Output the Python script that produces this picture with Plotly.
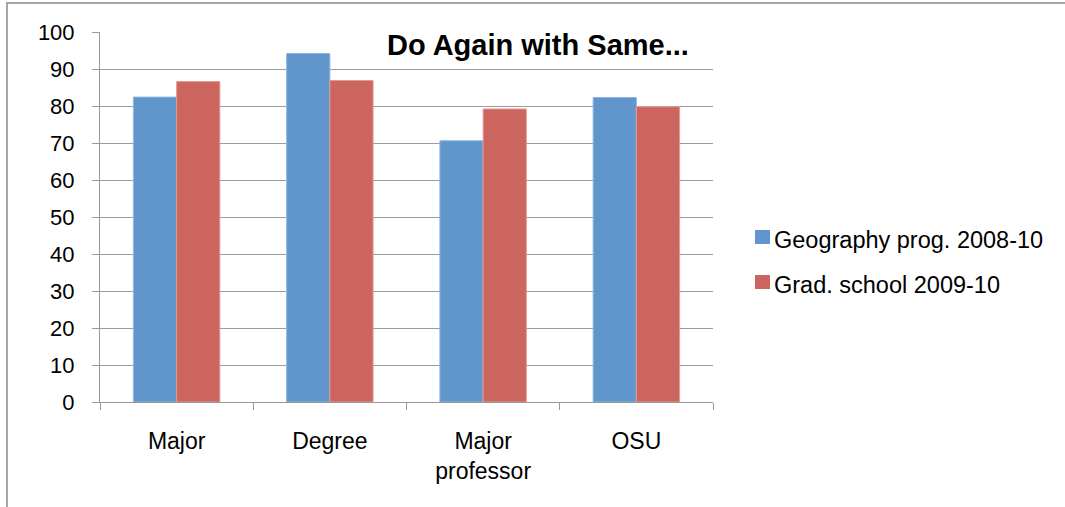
import plotly.graph_objects as go

# Survey responses: percentage who would choose the same again
categories = ["Major", "Degree", "Major<br>professor", "OSU"]
series_names = ["Geography prog. 2008-10", "Grad. school 2009-10"]
geography = [82.4, 94.2, 70.6, 82.3]
grad_school = [86.6, 86.9, 79.2, 79.8]
y_ticks = list(range(0, 101, 10))

colors = ["#6096CB", "#CD655F"]
edge_colors = ["#8DB4E0", "#E49A96"]

W, H = 1065, 507
L, R, T, B = 100, 352, 32, 105
PW, PH = W - L - R, H - T - B


def px_x(x):
    return (x - L) / PW


def px_y(y):
    return (H - B - y) / PH


FONT = "Liberation Sans, Arial, sans-serif"

fig = go.Figure()
for name, vals, c, ec in zip(series_names, [geography, grad_school], colors, edge_colors):
    fig.add_trace(go.Bar(
        x=categories, y=vals, name=name,
        marker=dict(color=c, line=dict(color=ec, width=1)),
        showlegend=False,
    ))

# Legend drawn as swatches + labels
legend_rows = [237, 282]
shapes = []
annotations = []
for name, c, yc in zip(series_names, colors, legend_rows):
    shapes.append(dict(type="rect", xref="paper", yref="paper",
                       x0=px_x(755), x1=px_x(770), y0=px_y(yc + 7), y1=px_y(yc - 7),
                       fillcolor=c, line=dict(width=0)))
    annotations.append(dict(text=name, xref="paper", yref="paper",
                            x=px_x(772), y=px_y(yc + 3), xanchor="left", yanchor="middle",
                            showarrow=False, font=dict(family=FONT, size=23.5, color="black")))

# Chart title inside the plot area
annotations.append(dict(text="<b>Do Again with Same...</b>", xref="paper", yref="paper",
                        x=px_x(538), y=px_y(45), xanchor="center", yanchor="middle",
                        showarrow=False, font=dict(family=FONT, size=29, color="black")))

# Outer chart border
shapes.append(dict(type="rect", xref="paper", yref="paper",
                   x0=px_x(7), x1=px_x(W + 20), y0=px_y(H + 20), y1=px_y(3),
                   line=dict(color="#A6A6A6", width=2), fillcolor="rgba(0,0,0,0)", layer="below"))

fig.update_layout(
    width=W, height=H,
    margin=dict(l=L, r=R, t=T, b=B, pad=0),
    paper_bgcolor="white", plot_bgcolor="white",
    barmode="group", bargap=0.436, bargroupgap=0,
    font=dict(family=FONT, size=22, color="black"),
    shapes=shapes, annotations=annotations,
    xaxis=dict(
        type="category", showline=True, linecolor="#999999", linewidth=1,
        ticks="outside", tickson="boundaries", ticklen=7, tickcolor="#999999",
        showgrid=False, tickfont=dict(size=23), ticklabelstandoff=18,
    ),
    yaxis=dict(
        range=[0, 100], tickvals=y_ticks, showline=True, linecolor="#999999", linewidth=1,
        ticks="outside", ticklen=7, tickcolor="#999999",
        showgrid=True, gridcolor="#9C9C9C", gridwidth=1, zeroline=False,
        tickfont=dict(size=22), ticklabelstandoff=13,
    ),
)

fig.write_html("out.html")
